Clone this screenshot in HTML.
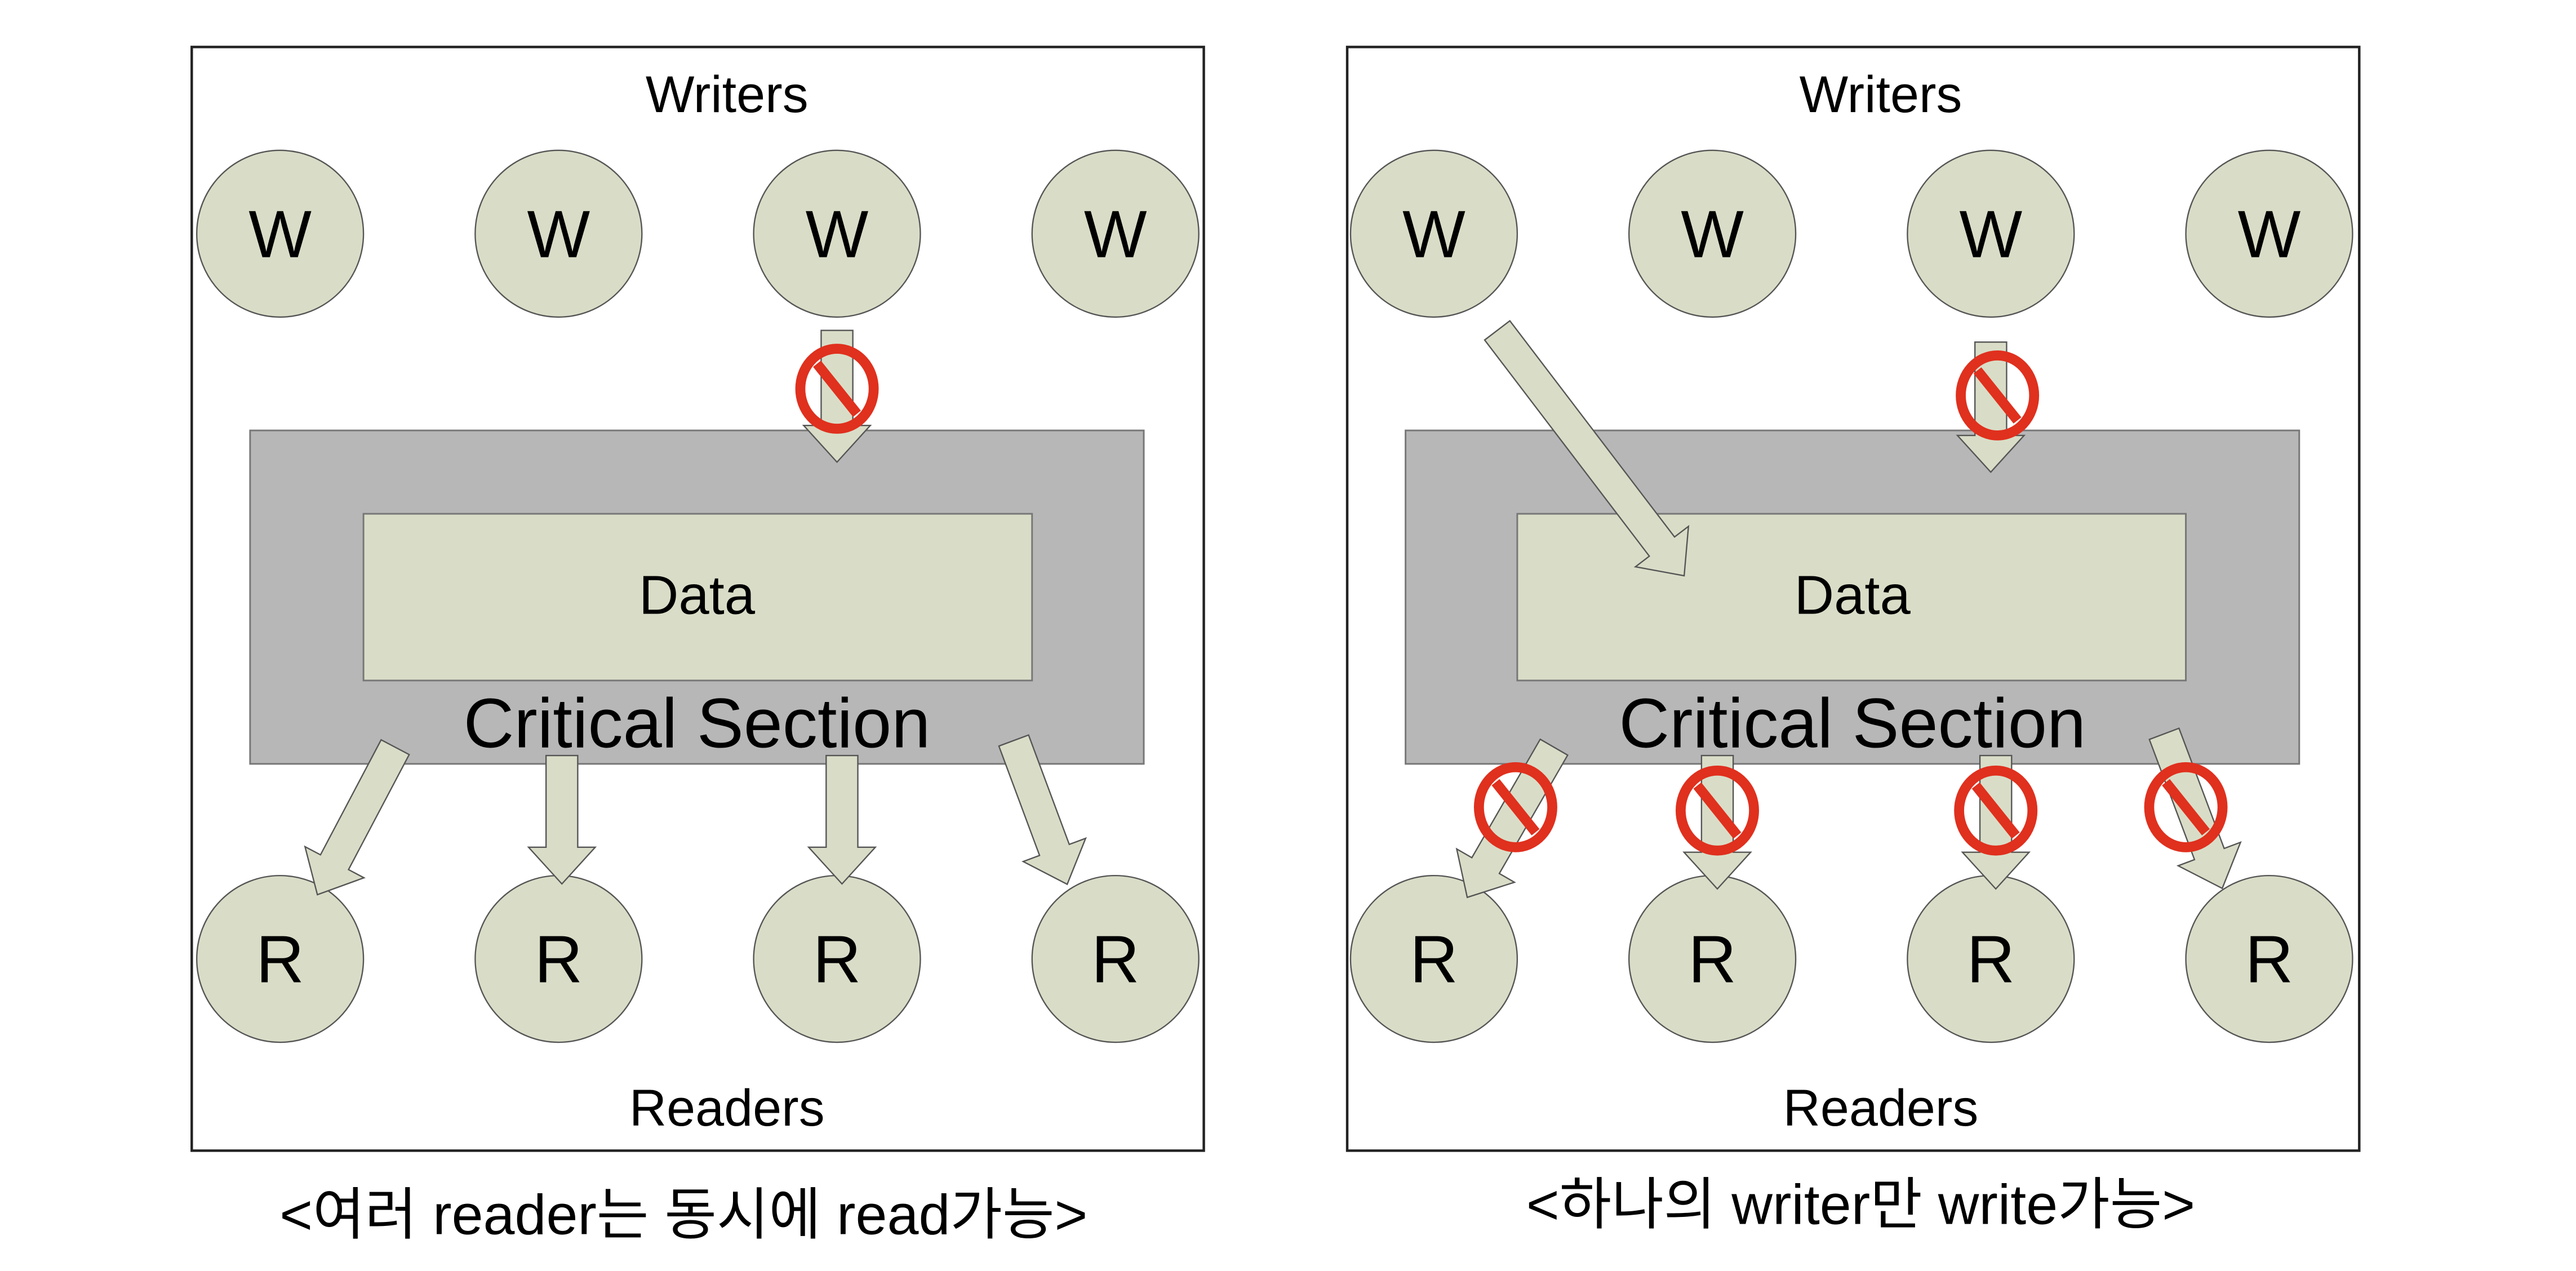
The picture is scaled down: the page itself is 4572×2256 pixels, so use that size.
<!DOCTYPE html>
<html><head><meta charset="utf-8"><style>
html,body{margin:0;padding:0;background:#fff;}
svg{display:block;}
text{font-family:"Liberation Sans","Noto Sans CJK KR",sans-serif;fill:#000;}
</style></head><body>
<svg width="4572" height="2256" viewBox="0 0 1545 762" xmlns="http://www.w3.org/2000/svg">
<defs>
<g id="nosign"><ellipse cx="0" cy="0" rx="22" ry="24" fill="none" stroke="#e0301e" stroke-width="6"/><line x1="-12" y1="-15" x2="12" y2="15" stroke="#e0301e" stroke-width="6"/></g>
</defs>
<g stroke="#222" stroke-width="1.5" fill="#fff">
<rect x="115" y="28" width="607" height="662"/>
<rect x="808" y="28" width="607" height="662"/>
</g>
<g font-size="31" text-anchor="middle">
<text x="436" y="67">Writers</text>
<text x="1128" y="67">Writers</text>
<text x="436" y="675">Readers</text>
<text x="1128" y="675">Readers</text>
</g>
<g stroke="#777" stroke-width="1">
<rect x="150" y="258" width="536" height="200" fill="#b7b7b7"/>
<rect x="218" y="308" width="401" height="100" fill="#d9ddc7"/>
<rect x="843" y="258" width="536" height="200" fill="#b7b7b7"/>
<rect x="910" y="308" width="401" height="100" fill="#d9ddc7"/>
</g>
<g text-anchor="middle">
<text x="418" y="368" font-size="33">Data</text>
<text x="418" y="448" font-size="42">Critical Section</text>
<text x="1111" y="368" font-size="33">Data</text>
<text x="1111" y="448" font-size="42">Critical Section</text>
</g>
<g fill="#d9ddc7" stroke="#555" stroke-width="0.8">
<circle cx="168" cy="140" r="50"/><circle cx="335" cy="140" r="50"/><circle cx="502" cy="140" r="50"/><circle cx="669" cy="140" r="50"/>
<circle cx="168" cy="575" r="50"/><circle cx="335" cy="575" r="50"/><circle cx="502" cy="575" r="50"/><circle cx="669" cy="575" r="50"/>
<circle cx="860" cy="140" r="50"/><circle cx="1027" cy="140" r="50"/><circle cx="1194" cy="140" r="50"/><circle cx="1361" cy="140" r="50"/>
<circle cx="860" cy="575" r="50"/><circle cx="1027" cy="575" r="50"/><circle cx="1194" cy="575" r="50"/><circle cx="1361" cy="575" r="50"/>
</g>
<g font-size="40" text-anchor="middle">
<text x="168" y="154">W</text><text x="335" y="154">W</text><text x="502" y="154">W</text><text x="669" y="154">W</text>
<text x="168" y="589">R</text><text x="335" y="589">R</text><text x="502" y="589">R</text><text x="669" y="589">R</text>
<text x="860" y="154">W</text><text x="1027" y="154">W</text><text x="1194" y="154">W</text><text x="1361" y="154">W</text>
<text x="860" y="589">R</text><text x="1027" y="589">R</text><text x="1194" y="589">R</text><text x="1361" y="589">R</text>
</g>
<g fill="#d9ddc7" stroke="#555" stroke-width="0.8">
<g transform="translate(502,198)"><polygon points="-9.5,0 9.5,0 9.5,57 20,57 0,79 -20,57 -9.5,57"/></g>
<g transform="translate(237,448) rotate(27.8)"><polygon points="-9.5,0 9.5,0 9.5,78 20,78 0,100 -20,78 -9.5,78"/></g>
<g transform="translate(337,453)"><polygon points="-9.5,0 9.5,0 9.5,55 20,55 0,77 -20,55 -9.5,55"/></g>
<g transform="translate(505,453)"><polygon points="-9.5,0 9.5,0 9.5,55 20,55 0,77 -20,55 -9.5,55"/></g>
<g transform="translate(608,444) rotate(-20.4)"><polygon points="-9.5,0 9.5,0 9.5,70 20,70 0,92 -20,70 -9.5,70"/></g>
<g transform="translate(1194,205)"><polygon points="-9.5,0 9.5,0 9.5,56 20,56 0,78 -20,56 -9.5,56"/></g>
<g transform="translate(898,198) rotate(-37.3)"><polygon points="-9.5,0 9.5,0 9.5,163 20,163 0,185 -20,163 -9.5,163"/></g>
<g transform="translate(932,448) rotate(30)"><polygon points="-9.5,0 9.5,0 9.5,82 20,82 0,104 -20,82 -9.5,82"/></g>
<g transform="translate(1030,453)"><polygon points="-9.5,0 9.5,0 9.5,58 20,58 0,80 -20,58 -9.5,58"/></g>
<g transform="translate(1197,453)"><polygon points="-9.5,0 9.5,0 9.5,58 20,58 0,80 -20,58 -9.5,58"/></g>
<g transform="translate(1298,440) rotate(-20.6)"><polygon points="-9.5,0 9.5,0 9.5,77 20,77 0,99 -20,77 -9.5,77"/></g>
</g>
<use href="#nosign" transform="translate(502,233)"/>
<use href="#nosign" transform="translate(1198,237)"/>
<use href="#nosign" transform="translate(909,484)"/>
<use href="#nosign" transform="translate(1030,486)"/>
<use href="#nosign" transform="translate(1197,486)"/>
<use href="#nosign" transform="translate(1311,484)"/>
<g font-size="34" text-anchor="middle">
<text x="410" y="740">&lt;여러 reader는 동시에 read가능&gt;</text>
<text x="1116" y="734">&lt;하나의 writer만 write가능&gt;</text>
</g>
</svg>
</body></html>
